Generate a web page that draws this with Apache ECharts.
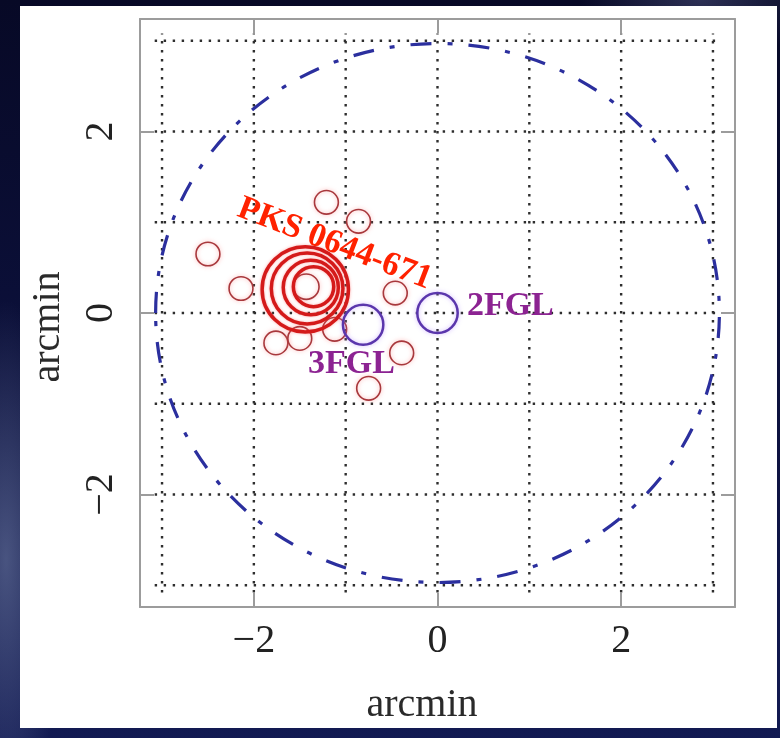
<!DOCTYPE html>
<html>
<head>
<meta charset="utf-8">
<script src="https://cdn.jsdelivr.net/npm/echarts@6/dist/echarts.min.js"></script>
<style>
  html, body { margin: 0; padding: 0; width: 780px; height: 738px; overflow: hidden; }
  body {
    background:
      radial-gradient(ellipse 60px 260px at 6px 560px, rgba(120,135,175,0.55), rgba(20,26,70,0) 100%),
      radial-gradient(ellipse 120px 60px at 700px 0px, rgba(90,95,140,0.45), rgba(20,26,70,0) 100%),
      linear-gradient(#070926, #0d1240 60%, #121a52);
  }
  #panel { position: absolute; left: 20px; top: 6px; width: 757px; height: 722px; background: #ffffff; }
  #chart { position: absolute; left: 0; top: 0; width: 780px; height: 738px; }
</style>
</head>
<body>
<div id="panel"></div>
<div id="chart"></div>
<script>
// All positions are offsets in arcmin from the field centre.

// axis tick marks / labels
const axisTicks = [-2, 0, 2];
// dotted reference grid, one line per arcmin
const gridVals = [-3, -2, -1, 0, 1, 2, 3];
const gridHalfLength = 3.08;

// search field (dash-dot outline), semi-axes along x and y
const fieldX = [0];
const fieldY = [0];
const fieldRx = [3.07];
const fieldRy = [2.97];

// individual radio positions (small circles)
const srcX = [-1.21, -0.86, -2.50, -2.14, -0.46, -1.76, -1.50, -1.12, -0.39, -0.75, -1.43];
const srcY = [ 1.22,  1.01,  0.65,  0.27,  0.22, -0.33, -0.28, -0.18, -0.44, -0.83,  0.29];
const srcR = [ 0.13,  0.13,  0.13,  0.13,  0.13,  0.13,  0.13,  0.13,  0.13,  0.13,  0.14];

// PKS 0644-671 error circles
const pksX = [-1.44, -1.42, -1.38, -1.35];
const pksY = [ 0.26,  0.27,  0.28,  0.29];
const pksR = [ 0.47,  0.39,  0.30,  0.22];

// Fermi catalogue positions
const fglNames = ['2FGL', '3FGL'];
const fglX = [0, -0.81];
const fglY = [0, -0.13];
const fglR = [0.22, 0.22];

const AXIS_MIN = -3.24, AXIS_MAX = 3.24;
const serif = '"Liberation Serif", "Times New Roman", serif';
const minus = v => (v < 0 ? '\u2212' + Math.abs(v) : String(v));

function circleSeries(name, xs, ys, rxs, rys, style, z) {
  return {
    type: 'custom',
    name: name,
    coordinateSystem: 'cartesian2d',
    silent: true,
    z: z,
    data: xs.map((x, i) => [x, ys[i], rxs[i], rys[i]]),
    renderItem: function (params, api) {
      const c = api.coord([api.value(0), api.value(1)]);
      const s = api.size([api.value(2), api.value(3)]);
      return {
        type: 'ellipse',
        shape: { cx: c[0], cy: c[1], rx: s[0], ry: s[1] },
        style: Object.assign({ fill: 'none' }, style)
      };
    }
  };
}

const gridSeries = {
  type: 'custom',
  name: 'grid',
  coordinateSystem: 'cartesian2d',
  silent: true,
  z: 1,
  data: gridVals.map(v => [v, v]),
  renderItem: function (params, api) {
    const v = api.value(0);
    const a = api.coord([v, -gridHalfLength]);
    const b = api.coord([v, gridHalfLength]);
    const c = api.coord([-gridHalfLength, v]);
    const d = api.coord([gridHalfLength, v]);
    const st = { stroke: '#2e2e2e', lineWidth: 2.4, lineDash: [2.4, 6.6] };
    return {
      type: 'group',
      children: [
        { type: 'line', shape: { x1: a[0], y1: a[1], x2: b[0], y2: b[1] }, style: st },
        { type: 'line', shape: { x1: c[0], y1: c[1], x2: d[0], y2: d[1] }, style: st }
      ]
    };
  }
};

// text annotations anchored in data space
const notes = [
  { text: 'PKS 0644-671', x: -1.12, y: 0.76, color: '#ff2200', rot: -21, align: 'center' },
  { text: fglNames[0], x: 0.32, y: 0.08, color: '#8c2392', rot: 0, align: 'left' },
  { text: fglNames[1], x: -1.41, y: -0.56, color: '#8c2392', rot: 0, align: 'left' }
];
const noteSeries = {
  type: 'custom',
  name: 'notes',
  coordinateSystem: 'cartesian2d',
  silent: true,
  z: 10,
  data: notes.map((n, i) => [n.x, n.y, i]),
  renderItem: function (params, api) {
    const n = notes[api.value(2)];
    const p = api.coord([api.value(0), api.value(1)]);
    return {
      type: 'text',
      x: p[0], y: p[1],
      rotation: n.rot * Math.PI / 180,
      style: {
        text: n.text, fill: n.color,
        font: 'bold 34px ' + serif,
        align: n.align, verticalAlign: 'middle'
      }
    };
  }
};

function xAxisDef(pos, showLabels) {
  return {
    type: 'value', position: pos, min: AXIS_MIN, max: AXIS_MAX,
    axisLine: { show: true, onZero: false, lineStyle: { color: '#9c9c9c', width: 2 } },
    axisTick: { show: true, inside: true, length: 14, customValues: axisTicks, lineStyle: { color: '#9c9c9c', width: 2 } },
    axisLabel: { show: showLabels, customValues: axisTicks, formatter: minus, fontFamily: serif, fontSize: 40, color: '#222', margin: 14 },
    splitLine: { show: false }
  };
}
function yAxisDef(pos, showLabels) {
  return {
    type: 'value', position: pos, min: AXIS_MIN, max: AXIS_MAX,
    axisLine: { show: true, onZero: false, lineStyle: { color: '#9c9c9c', width: 2 } },
    axisTick: { show: true, inside: true, length: 14, customValues: axisTicks, lineStyle: { color: '#9c9c9c', width: 2 } },
    axisLabel: { show: showLabels, customValues: axisTicks, formatter: minus, rotate: 90, fontFamily: serif, fontSize: 40, color: '#222', margin: 19 },
    splitLine: { show: false }
  };
}

const chart = echarts.init(document.getElementById('chart'), null, { renderer: 'canvas' });
chart.setOption({
  animation: false,
  backgroundColor: 'transparent',
  grid: { left: 140, right: 45, top: 19, bottom: 131, containLabel: false },
  xAxis: [xAxisDef('bottom', true), xAxisDef('top', false)],
  yAxis: [yAxisDef('left', true), yAxisDef('right', false)],
  graphic: [
    { type: 'text', x: 422, y: 705, style: { text: 'arcmin', font: '40px ' + serif, fill: '#2a2a2a', align: 'center', verticalAlign: 'middle' } },
    { type: 'text', x: 48, y: 327, rotation: Math.PI / 2, style: { text: 'arcmin', font: '40px ' + serif, fill: '#2a2a2a', align: 'center', verticalAlign: 'middle' } }
  ],
  series: [
    gridSeries,
    circleSeries('field', fieldX, fieldY, fieldRx, fieldRy,
      { stroke: '#2b2f9e', lineWidth: 3.2, lineDash: [21, 16, 5, 16], lineCap: 'butt' }, 2),
    circleSeries('sources', srcX, srcY, srcR, srcR,
      { stroke: '#a8383c', lineWidth: 1.6, shadowBlur: 4, shadowColor: 'rgba(255,120,120,0.6)' }, 3),
    circleSeries('PKS 0644-671', pksX, pksY, pksR, pksR,
      { stroke: '#d41a1a', lineWidth: 3.5, shadowBlur: 3, shadowColor: 'rgba(255,90,90,0.5)' }, 4),
    circleSeries('Fermi', fglX, fglY, fglR, fglR,
      { stroke: '#5a36ac', lineWidth: 2.5, shadowBlur: 4, shadowColor: 'rgba(170,120,255,0.5)' }, 5),
    noteSeries
  ]
});
</script>
</body>
</html>
